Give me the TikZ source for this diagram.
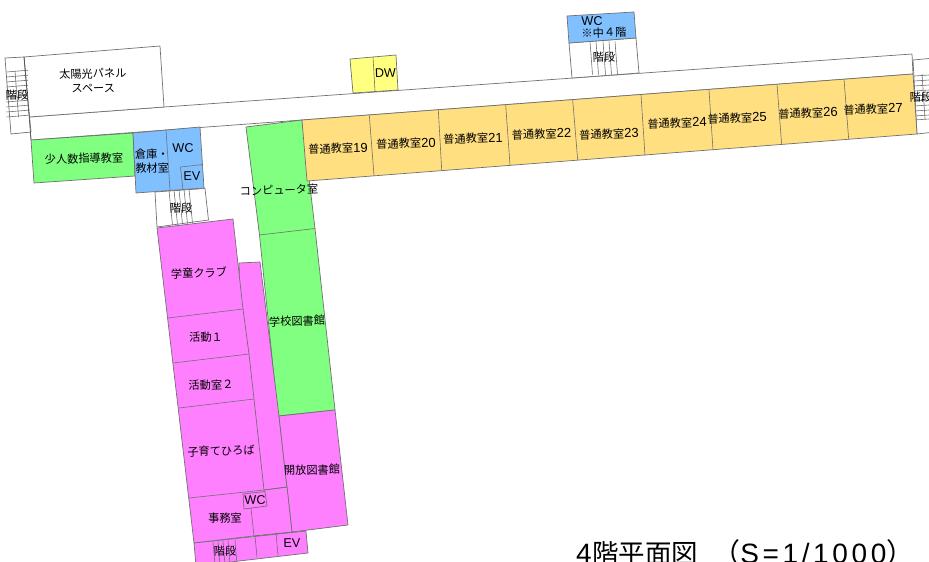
\documentclass[tikz,border=0pt]{standalone}
\usepackage{fontspec}
\setmainfont{Liberation Sans}
\newfontfamily\jp{Noto Sans CJK JP}
\newfontfamily\spaced[LetterSpace=13]{Liberation Sans}
\definecolor{gr}{HTML}{80FF80}
\definecolor{bl}{HTML}{80C0FF}
\definecolor{og}{HTML}{FFDF80}
\definecolor{pk}{HTML}{FF80FF}
\definecolor{yl}{HTML}{FFFF80}
\definecolor{ln}{HTML}{707070}
\newcommand{\classroom}[1]{{\jp 普通教室}{\fontsize{13}{14}\selectfont #1}}
\tikzset{
  wall/.style={draw=ln,line width=0.7pt,line join=round},
  thin wall/.style={draw=ln,line width=0.6pt},
  room label/.style={inner sep=0pt,font=\fontsize{11.2}{12}\selectfont\jp,text=black,align=center,rotate=1.5},
  latin label/.style={inner sep=0pt,font=\fontsize{12.6}{13}\selectfont,text=black,align=center,rotate=1.5},
  class label/.style={inner sep=0pt,font=\fontsize{11.2}{12}\selectfont,text=black,align=center,rotate=1.5},
}
\begin{document}
\begin{tikzpicture}[x=1pt,y=-1pt]
\useasboundingbox (0,0) rectangle (929,562);
\clip (0,0) rectangle (929,562);
% corridor and white rooms
\path[wall,fill=white] (164,107) -- (912,54) -- (913,74) -- (302,120) -- (31,140) -- (29,117) -- cycle;
\path[wall,fill=white] (24,57) -- (160,46) -- (164,107) -- (29,117) -- cycle;
% left stairs
\path[wall,fill=white] (5,58) -- (24,57) -- (31,132) -- (11,134) -- cycle;
\foreach \y in {72,77,82,87,92,97,102,107,112,117} {
  \draw[thin wall] (6.5,\y) -- (28,\y-1.8);
}
\draw[thin wall] (15,71) -- (18.5,117);
\draw[black!70,line width=0.6pt] (24,57) -- (31,139);
% right stairs
\path[wall,fill=white] (913,60) -- (935,58) -- (935,132) -- (917,134) -- cycle;
\foreach \y in {76,81,86,91,96,101,106,111,116,120} {
  \draw[thin wall] (914,\y) -- (929,\y-1);
}
\draw[thin wall] (922,74) -- (925,119);
% small classroom
\path[wall,fill=gr] (31,140) -- (133,133) -- (135,176) -- (34,183) -- cycle;
% blue block
\path[wall,fill=bl] (133,133) -- (200,127) -- (204,188) -- (136,193) -- cycle;
\draw[thin wall] (166,130) -- (170,190);
\draw[thin wall] (180.5,167) -- (203,164.5);
\draw[thin wall] (180.5,167) -- (183,190);
% stairs below blue block
\path[wall,fill=white] (155,192) -- (205,188.5) -- (208.5,220) -- (157,227) -- cycle;
\foreach \i in {0,1,2,3,4} {
  \draw[thin wall] (169+\i*5,190.5-\i*0.4) -- (172.5+\i*5,225-\i*0.5);
}
% computer room and library
\path[wall,fill=gr] (246,127) -- (302,120) -- (315,228.5) -- (335,410) -- (278,416) -- (259.5,235) -- cycle;
\draw[thin wall] (259.5,235) -- (315,228.5);
% classrooms
\path[wall,fill=og] (302,120) -- (913,74) -- (917,134) -- (307,181) -- cycle;
\foreach \tx/\bx/\ty/\by in {369.3/374/115/175.8,438.3/441.7/110/170,505.7/510/105/165,572.7/577.7/100/160,641/645/95/155.5,709/713/90/150,777/781.7/84.5/145,844/848.7/79/139.5} {
  \draw[thin wall] (\tx,\ty) -- (\bx,\by);
}
% WC top and stairs
\path[wall,fill=white] (569,43) -- (636,38) -- (639,73) -- (572,78) -- cycle;
\foreach \x in {590,596,603,609,615} {
  \draw[thin wall] (\x,41.5) -- (\x+2.5,74.5);
}
\path[wall,fill=bl] (567,16) -- (634,12) -- (636,38) -- (569,43) -- cycle;
% DW
\path[wall,fill=yl] (350,59) -- (396,55) -- (398,90) -- (353,93) -- cycle;
\draw[thin wall] (373,57) -- (375,91);
% pink wing
\path[wall,fill=pk] (239,263) -- (260,262) -- (279,416) -- (292,532) -- (254,536) -- (251,508) -- (243,400) -- cycle;
\path[wall,fill=pk] (279,416) -- (335,410) -- (348,525) -- (292,532) -- cycle;
\path[wall,fill=pk] (157,228) -- (233,219) -- (243,309) -- (249,354) -- (254,399) -- (264,490) -- (287,487) -- (292,532) -- (253,536) -- (194,543) -- cycle;
\draw[thin wall] (168,318) -- (243,309);
\draw[thin wall] (173,363) -- (249,354);
\draw[thin wall] (179,408) -- (254,399);
\draw[thin wall] (189,498) -- (264,490);
\draw[thin wall] (264,490) -- (287,487);
\draw[thin wall] (251,508) -- (254,536);
\path[wall,fill=pk] (243,494) -- (265,491.5) -- (267,506) -- (244,509) -- cycle;
% bottom row
\path[wall,fill=pk] (194,543) -- (306,531) -- (308,553) -- (196,566) -- cycle;
\draw[thin wall] (255,536) -- (257,557);
\draw[thin wall] (276,533) -- (278,555);
\foreach \x/\t in {213/542,218/541.5,223/541,228/540.5,235/540} {
  \draw[thin wall] (\x,\t) -- (\x+2,565);
}
% labels
\node[room label] (solar) at (93,80.5) {太陽光パネル\\[2.5pt]スペース};
\node[room label] (stl) at (17,95) {階段};
\node[room label] (str) at (921,97) {階段};
\node[room label] (small) at (84,158.5) {少人数指導教室};
\node[room label] (store) at (152,161) {倉庫・\\[2pt]教材室};
\node[latin label] (wc1) at (183,148) {WC};
\node[latin label] (ev1) at (192,176) {EV};
\node[room label] (st2) at (181,208) {階段};
\node[room label] (comp) at (279,190) {コンピュータ室};
\node[room label] (lib) at (297,321) {学校図書館};
\node[room label] (club) at (199,273) {学童クラブ};
\node[room label] (act1) at (206,337) {活動１};
\node[room label] (act2) at (211,385) {活動室２};
\node[room label] (kids) at (221,451) {子育てひろば};
\node[room label] (open) at (312,470) {開放図書館};
\node[latin label] (wc2) at (255,500) {WC};
\node[room label] (off) at (225,518) {事務室};
\node[room label] (st3) at (225,551) {階段};
\node[latin label] (ev2) at (292,543) {EV};
\node[latin label] (dw) at (385.5,73) {DW};
\node[latin label] (wc3) at (592,21) {WC};
\node[room label] (wc3b) at (604,32.5) {※中４階};
\node[room label] (st4) at (604,57) {階段};
\node[class label] (c19) at (338,148.5) {\classroom{19}};
\node[class label] (c20) at (406,143.5) {\classroom{20}};
\node[class label] (c21) at (473,138.5) {\classroom{21}};
\node[class label] (c22) at (541.5,134) {\classroom{22}};
\node[class label] (c23) at (609,134) {\classroom{23}};
\node[class label] (c24) at (677,123) {\classroom{24}};
\node[class label] (c25) at (737,118) {\classroom{25}};
\node[class label] (c26) at (808,113) {\classroom{26}};
\node[class label] (c27) at (873,109) {\classroom{27}};
\node[inner sep=0pt,anchor=base west,font=\fontsize{28}{30}\selectfont] (title) at (576,563) {4\hspace{0.5pt}{\jp\fontsize{26.5}{30}\selectfont 階平面図}\hspace{14pt}{\jp （}{\spaced S=1/1000}{\jp ）}};
\end{tikzpicture}
\end{document}
